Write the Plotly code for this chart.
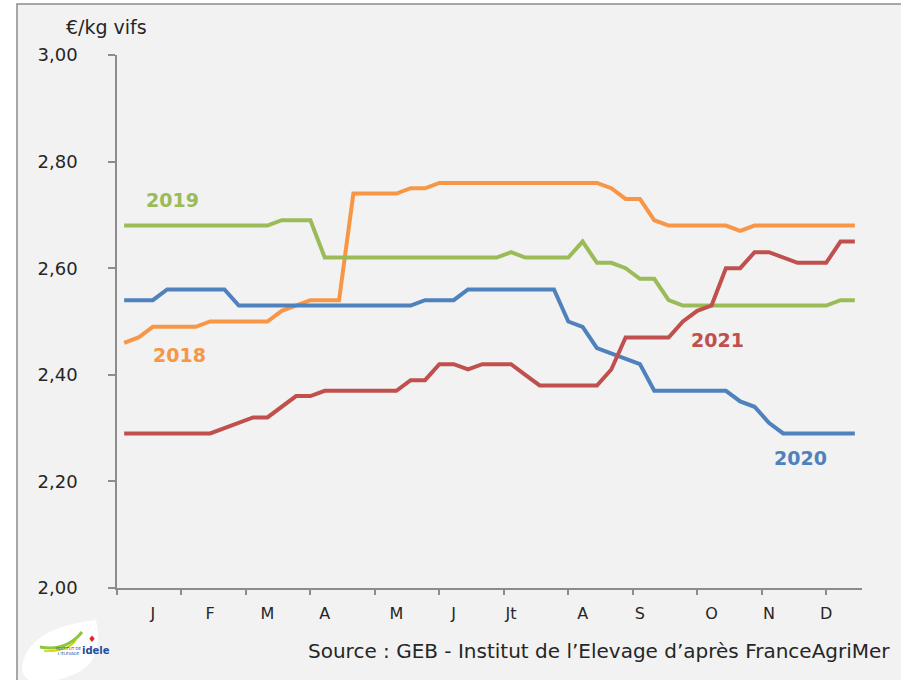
import plotly.graph_objects as go

weeks = list(range(1, 53))

prix_2018 = [2.46, 2.47, 2.49, 2.49, 2.49, 2.49, 2.50, 2.50, 2.50, 2.50, 2.50, 2.52, 2.53,
             2.54, 2.54, 2.54, 2.74, 2.74, 2.74, 2.74, 2.75, 2.75,
             2.76, 2.76, 2.76, 2.76, 2.76, 2.76, 2.76, 2.76, 2.76, 2.76, 2.76, 2.76,
             2.75, 2.73, 2.73, 2.69, 2.68, 2.68, 2.68, 2.68, 2.68, 2.67,
             2.68, 2.68, 2.68, 2.68, 2.68, 2.68, 2.68, 2.68]
prix_2019 = [2.68] * 11 + [2.69, 2.69, 2.69] + [2.62] * 13 + [2.63] + [2.62] * 4 + \
            [2.65, 2.61, 2.61, 2.60, 2.58, 2.58, 2.54] + [2.53] * 11 + [2.54, 2.54]
prix_2020 = [2.54, 2.54, 2.54, 2.56, 2.56, 2.56, 2.56, 2.56] + [2.53] * 13 + \
            [2.54, 2.54, 2.54] + [2.56] * 7 + \
            [2.50, 2.49, 2.45, 2.44, 2.43, 2.42] + [2.37] * 6 + [2.35, 2.34, 2.31] + [2.29] * 6
prix_2021 = [2.29] * 7 + [2.30, 2.31, 2.32, 2.32, 2.34, 2.36, 2.36] + [2.37] * 6 + \
            [2.39, 2.39, 2.42, 2.42, 2.41, 2.42, 2.42, 2.42, 2.40] + [2.38] * 5 + \
            [2.41, 2.47, 2.47, 2.47, 2.47, 2.50, 2.52, 2.53, 2.60, 2.60, 2.63, 2.63,
             2.62, 2.61, 2.61, 2.61, 2.65, 2.65]

month_weeks = [3, 7, 11, 15, 20, 24, 28, 33, 37, 42, 46, 50]
month_labels = ["J", "F", "M", "A", "M", "J", "Jt", "A", "S", "O", "N", "D"]

series = [
    ("2018", prix_2018, "#f79646"),
    ("2019", prix_2019, "#9bbb59"),
    ("2020", prix_2020, "#4f81bd"),
    ("2021", prix_2021, "#c0504d"),
]

FONT = "DejaVu Sans"
TXT = "#262626"

fig = go.Figure()
for name, vals, col in series:
    fig.add_trace(go.Scatter(x=weeks, y=vals, mode="lines", name=name,
                             line=dict(color=col, width=4, shape="linear"),
                             showlegend=False, hoverinfo="x+y"))

# series labels
labels = [("2019", 4.35, 2.728, "#9bbb59"), ("2018", 4.85, 2.437, "#f79646"),
          ("2021", 42.4, 2.465, "#c0504d"), ("2020", 48.2, 2.244, "#4f81bd")]
for t, lx, ly, col in labels:
    fig.add_annotation(x=lx, y=ly, xref="x", yref="y", text="<b>%s</b>" % t,
                       showarrow=False, font=dict(family=FONT, size=19, color=col))

def px(xp):
    return (xp - 117) / 745.0

def py(yp):
    return (588 - yp) / 533.0

# panel background
shapes = [
    dict(type="rect", xref="paper", yref="paper", layer="below",
         x0=px(17), x1=px(920), y0=py(700), y1=py(4),
         fillcolor="#f2f2f2", line=dict(color="#8c8c8c", width=1.5)),
    # logo blob
    dict(type="path", xref="paper", yref="paper", layer="above",
         path="M %f %f Q %f %f %f %f Q %f %f %f %f Q %f %f %f %f Z" % (
             px(22), py(668),
             px(26), py(628), px(96), py(620),
             px(106), py(664), px(70), py(676),
             px(24), py(692), px(22), py(668)),
         fillcolor="white", line=dict(width=0)),
    dict(type="path", xref="paper", yref="paper", layer="above",
         path="M %f %f Q %f %f %f %f" % (px(40), py(647), px(66), py(652), px(82), py(632)),
         line=dict(color="#8dc63f", width=3)),
    dict(type="path", xref="paper", yref="paper", layer="above",
         path="M %f %f Q %f %f %f %f" % (px(44), py(651), px(68), py(652), px(76), py(640)),
         line=dict(color="#c8d400", width=1.5)),
]
fig.update_layout(shapes=shapes)

fig.add_annotation(xref="paper", yref="paper", x=px(80), y=py(658),
                   text="<b>idele</b>", showarrow=False,
                   font=dict(family=FONT, size=10, color="#1f4e9c"))
fig.add_annotation(xref="paper", yref="paper", x=px(86), y=py(646),
                   text="<b>♦</b>", showarrow=False,
                   font=dict(family=FONT, size=9, color="#e2231a"))
fig.add_annotation(xref="paper", yref="paper", x=px(54), y=py(658),
                   text="INSTITUT DE<br>L'ÉLEVAGE", showarrow=False,
                   font=dict(family=FONT, size=4, color="#1f4e9c"))

fig.add_annotation(xref="paper", yref="paper", x=px(106), y=py(27),
                   xanchor="center", yanchor="middle", text="€/kg vifs",
                   showarrow=False, font=dict(family=FONT, size=19, color=TXT))
fig.add_annotation(xref="paper", yref="paper", x=px(892), y=py(651),
                   xanchor="right", yanchor="middle",
                   text="Source : GEB - Institut de l’Elevage d’après FranceAgriMer",
                   showarrow=False, font=dict(family=FONT, size=20, color=TXT))

fig.update_layout(
    width=901, height=680,
    margin=dict(l=117, r=39, t=55, b=92, pad=0),
    paper_bgcolor="white", plot_bgcolor="rgba(0,0,0,0)",
    separators=", ",
    font=dict(family=FONT, color=TXT),
    xaxis=dict(range=[0.5, 52.5], showgrid=False, zeroline=False,
               showline=True, linecolor="#8c8c8c", linewidth=1.5,
               tickmode="array", tickvals=month_weeks, ticktext=month_labels,
               ticks="", ticklabelstandoff=10,
               tickfont=dict(family=FONT, size=16, color=TXT),
               minor=dict(tickmode="linear", tick0=0.5, dtick=4.5, ticks="outside",
                          ticklen=5, tickwidth=1.5, tickcolor="#8c8c8c", showgrid=False)),
    yaxis=dict(range=[2.0, 3.0], showgrid=False, zeroline=False,
               showline=True, linecolor="#8c8c8c", linewidth=1.5,
               tickmode="linear", tick0=2.0, dtick=0.2, tickformat=".2f",
               ticks="outside", ticklen=7, tickwidth=1.5, tickcolor="#8c8c8c",
               ticklabelstandoff=27,
               tickfont=dict(family=FONT, size=18, color=TXT)),
)

fig.write_html("out.html", config={"displayModeBar": False},
               post_script="document.body.style.margin='0px';document.body.style.overflow='hidden';")
